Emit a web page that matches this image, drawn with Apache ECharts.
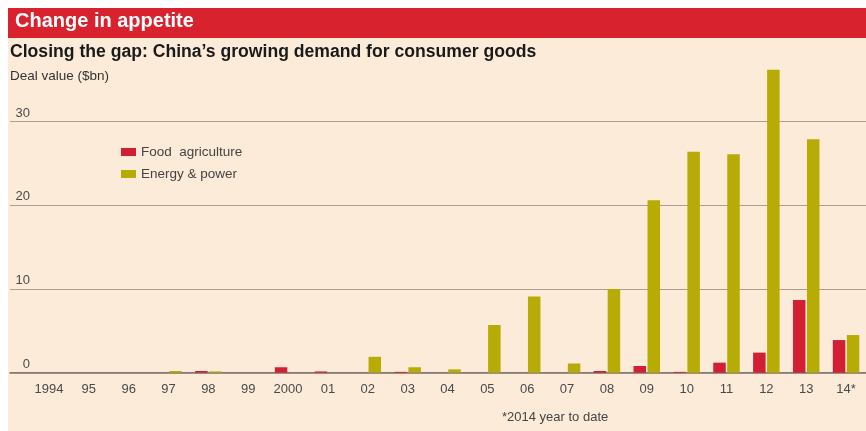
<!DOCTYPE html>
<html>
<head>
<meta charset="utf-8">
<script src="https://cdn.jsdelivr.net/npm/echarts@6/dist/echarts.min.js"></script>
<style>
  html, body { margin: 0; padding: 0; background: #ffffff; }
  #chart { width: 866px; height: 431px; }
</style>
</head>
<body>
<div id="chart"></div>
<script>
// 年份
const years = ['1994', '95', '96', '97', '98', '99', '2000', '01', '02', '03', '04',
  '05', '06', '07', '08', '09', '10', '11', '12', '13', '14*'];
// Food agriculture ($bn)
const foodValues = [0, 0, 0, 0, 0.2, 0, 0.65, 0.15, 0, 0.1, 0,
  0, 0, 0, 0.2, 0.8, 0.1, 1.2, 2.4, 8.7, 3.9];
// Energy & power ($bn)
const energyValues = [0, 0, 0, 0.2, 0.15, 0, 0, 0, 1.9, 0.65, 0.4,
  5.7, 9.1, 1.1, 10, 20.6, 26.4, 26.1, 36.2, 27.9, 4.5];
const yTicks = [0, 10, 20, 30];

const cream = '#fcebd9';
const red = '#d8232e';
const olive = '#b7ab05';
const foodRed = '#d21f34';
const fontFam = '"Liberation Sans", Arial, sans-serif';

const chart = echarts.init(document.getElementById('chart'), null, { renderer: 'canvas' });

const plotTop = 38;
const plotBottom = 58.3;

const option = {
  backgroundColor: '#ffffff',
  animation: false,
  graphic: [
    { type: 'rect', shape: { x: 8, y: 8, width: 858, height: 423 }, style: { fill: cream }, z: -10 },
    { type: 'rect', shape: { x: 8, y: 8, width: 858, height: 30 }, style: { fill: red }, z: 10 },
    {
      type: 'text', left: 15, top: 11, z: 11,
      style: { text: 'Change in appetite', fill: '#ffffff', font: 'bold 20px ' + fontFam }
    },
    {
      type: 'text', left: 10, top: 43, z: 11,
      style: { text: 'Closing the gap: China\u2019s growing demand for consumer goods', fill: '#1a1a1a', font: 'bold 17.6px ' + fontFam }
    },
    {
      type: 'text', left: 10, top: 69, z: 11,
      style: { text: 'Deal value ($bn)', fill: '#333333', font: '13.5px ' + fontFam }
    },
    {
      type: 'text', left: 502, top: 411, z: 11,
      style: { text: '*2014 year to date', fill: '#444444', font: '13px ' + fontFam }
    }
  ],
  legend: {
    orient: 'vertical',
    left: 116,
    top: 140,
    itemWidth: 15,
    itemHeight: 8,
    itemGap: 8,
    icon: 'rect',
    textStyle: { fontSize: 13.5, color: '#444444', fontFamily: fontFam },
    data: ['Food  agriculture', 'Energy & power']
  },
  grid: [
    // 网格线 (全宽)
    { left: 10, right: 0, top: plotTop, bottom: plotBottom },
    // 柱状图
    { left: 29, width: 840, top: plotTop, bottom: plotBottom }
  ],
  xAxis: [
    {
      gridIndex: 0,
      type: 'category',
      data: years,
      axisLine: { show: true, lineStyle: { color: '#7a706a', width: 1.5 } },
      axisTick: { show: false },
      axisLabel: { show: false },
      splitLine: { show: false }
    },
    {
      gridIndex: 1,
      type: 'category',
      data: years,
      axisLine: { show: false },
      axisTick: { show: false },
      axisLabel: {
        margin: 10,
        fontSize: 13,
        color: '#4a4a4a',
        fontFamily: fontFam
      }
    }
  ],
  yAxis: [
    {
      gridIndex: 0,
      type: 'value',
      min: yTicks[0],
      max: 40,
      interval: 10,
      axisLine: { show: false },
      axisTick: { show: false },
      axisLabel: {
        inside: true,
        margin: 20,
        align: 'right',
        verticalAlign: 'bottom',
        padding: [0, 0, 2, 0],
        fontSize: 13,
        color: '#4a4a4a',
        fontFamily: fontFam,
        showMaxLabel: false,
        formatter: v => (yTicks.indexOf(v) >= 0 ? String(v) : '')
      },
      splitLine: { show: true, showMaxLine: false, lineStyle: { color: '#aa9d92', width: 1.2 } }
    },
    {
      gridIndex: 1,
      type: 'value',
      min: 0,
      max: 40,
      interval: 10,
      show: false,
      splitLine: { show: false }
    }
  ],
  series: [
    {
      name: 'Food  agriculture',
      type: 'bar',
      xAxisIndex: 1,
      yAxisIndex: 1,
      data: foodValues,
      barWidth: 12.5,
      barGap: '12%',
      itemStyle: { color: foodRed }
    },
    {
      name: 'Energy & power',
      type: 'bar',
      xAxisIndex: 1,
      yAxisIndex: 1,
      data: energyValues,
      barWidth: 12.5,
      barGap: '12%',
      itemStyle: { color: olive }
    }
  ]
};

chart.setOption(option);
</script>
</body>
</html>
